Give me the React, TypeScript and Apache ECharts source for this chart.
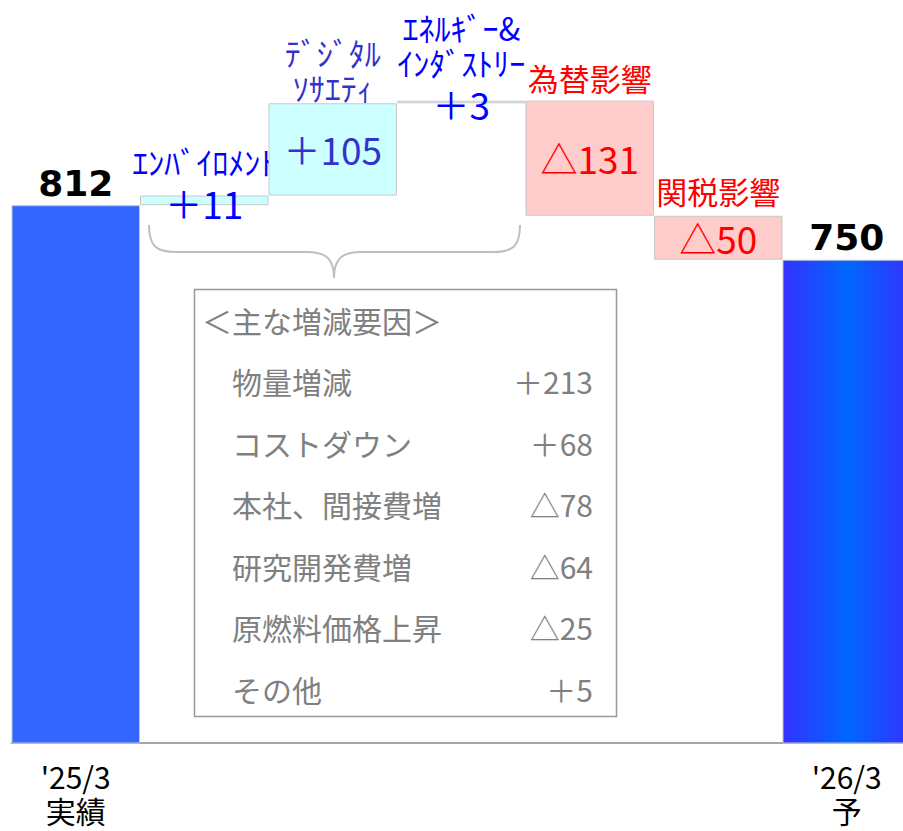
import React, { useEffect, useRef } from 'react';
import * as echarts from 'echarts';

// Operating profit bridge: '25/3 actual -> '26/3 forecast
const CATEGORIES = ["'25/3\n実績", 'エンバイロメント', 'デジタルソサエティ', 'エネルギー&インダストリー', '為替影響', '関税影響', "'26/3\n予"];
const START_TOTAL = 812;
const END_TOTAL = 750;
const DELTA_NAMES = [['ｴﾝﾊﾞｲﾛﾒﾝﾄ'], ['ﾃﾞｼﾞﾀﾙ', 'ｿｻｴﾃｨ'], ['ｴﾈﾙｷﾞｰ&', 'ｲﾝﾀﾞｽﾄﾘｰ'], ['為替影響'], ['関税影響']];
const DELTA_VALUES = [11, 105, 3, -131, -50];
const FACTOR_TITLE = '＜主な増減要因＞';
const FACTOR_NAMES = ['物量増減', 'コストダウン', '本社、間接費増', '研究開発費増', '原燃料価格上昇', 'その他'];
const FACTOR_VALUES = [213, 68, -78, -64, -25, 5];

// Styling
const JP_FONT = "'Noto Sans CJK JP', 'Noto Sans', sans-serif";
const NAME_COLORS = ['#0000ff', '#3333cc', '#0000ff', '#ff0000', '#ff0000'];
const NAME_SIZES = [32, 32, 32, 31, 31];
const VALUE_COLORS = ['#0000ff', '#3333cc', '#0000ff', '#ff0000', '#ff0000'];
const UP_FILL = '#ccffff';
const DOWN_FILL = '#ffcccc';
// vertical offset (px) of the last name line's centre from the bar top
const NAME_GAP = [-35, -16, -39, -23, -25];
const NAME_LINE_HEIGHT = 35;

const fmtDelta = (v: number) => (v >= 0 ? '＋' + v : '△' + -v);

const braceD =
  'M149,225 C149,245 155,252 176,252 L307,252 C327,252 334,260 334,278 C334,260 341,252 361,252 L493,252 C514,252 520,245 520,225';
echarts.graphic.registerShape('brace', echarts.graphic.extendPath(braceD, {}));

export default function App() {
  const ref = useRef<HTMLDivElement>(null);

  useEffect(() => {
    const el = ref.current;
    if (!el) return;
    const chart = echarts.init(el, null, { renderer: 'svg' });

    const bases: number[] = [];
    const tops: number[] = [];
    let running = START_TOTAL;
    DELTA_VALUES.forEach((d) => {
      const next = running + d;
      bases.push(Math.min(running, next));
      tops.push(Math.max(running, next));
      running = next;
    });

    const n = CATEGORIES.length;
    const totalsData: any[] = CATEGORIES.map(() => '-');
    totalsData[0] = { value: START_TOTAL, itemStyle: { color: '#3366ff' } };
    totalsData[n - 1] = {
      value: END_TOTAL,
      itemStyle: {
        color: new echarts.graphic.LinearGradient(0, 0, 1, 0, [
          { offset: 0, color: '#3333ff' },
          { offset: 0.5, color: '#0066ff' },
          { offset: 1, color: '#3333ff' },
        ]),
      },
    };

    const baseData: any[] = ['-', ...bases, '-'];

    const labelPos: any[] = [['50%', 7], 'inside', ['50%', 3], 'inside', 'inside'];
    const deltaData: any[] = [
      '-',
      ...DELTA_VALUES.map((d, i) => ({
        value: Math.abs(d),
        itemStyle: { color: d >= 0 ? UP_FILL : DOWN_FILL },
        label: {
          show: true,
          position: labelPos[i],
          align: 'center',
          verticalAlign: 'middle',
          color: VALUE_COLORS[i],
          fontSize: 37,
          fontFamily: JP_FONT,
          formatter: () => fmtDelta(d),
        },
      })),
      '-',
    ];

    chart.setOption({
      animation: false,
      backgroundColor: '#ffffff',
      textStyle: { fontFamily: JP_FONT },
      grid: {
        left: 11.5,
        width: 899.5,
        top: 40,
        height: 703,
        containLabel: false,
        outerBoundsMode: 'none',
      },
      xAxis: {
        type: 'category',
        data: CATEGORIES,
        axisTick: { show: false },
        axisLine: { show: true, lineStyle: { color: '#a6a6a6', width: 2 } },
        axisLabel: {
          interval: 0,
          margin: 16,
          color: '#000000',
          fontSize: 30,
          lineHeight: 34,
          fontFamily: JP_FONT,
          formatter: (v: string, i: number) => (i === 0 || i === n - 1 ? v : ''),
        },
      },
      yAxis: {
        type: 'value',
        min: 200,
        max: 1000,
        show: false,
        splitLine: { show: false },
      },
      series: [
        {
          name: 'total',
          type: 'bar',
          data: totalsData,
          barCategoryGap: '0%',
          barGap: '-100%',
          itemStyle: { borderColor: '#c4c8d4', borderWidth: 1 },
          label: {
            show: true,
            position: 'top',
            distance: 4,
            color: '#000000',
            fontSize: 36,
            fontWeight: 'bold',
            fontFamily: "'DejaVu Sans', Verdana, sans-serif",
          },
        },
        {
          name: 'base',
          type: 'bar',
          stack: 'wf',
          data: baseData,
          barCategoryGap: '0%',
          barGap: '-100%',
          silent: true,
          itemStyle: { color: 'rgba(0,0,0,0)' },
        },
        {
          name: 'delta',
          type: 'bar',
          stack: 'wf',
          data: deltaData,
          barCategoryGap: '0%',
          barGap: '-100%',
          itemStyle: { borderColor: '#c8c8c8', borderWidth: 1 },
        },
      ],
    });

    const nameTexts = DELTA_NAMES.map((lines, i) => {
      const [x, y] = chart.convertToPixel({ gridIndex: 0 }, [i + 1, tops[i]]) as number[];
      return {
        type: 'text',
        x,
        y: y + NAME_GAP[i] + NAME_LINE_HEIGHT / 2,
        silent: true,
        style: {
          text: lines.join('\n'),
          fill: NAME_COLORS[i],
          fontSize: NAME_SIZES[i],
          fontFamily: JP_FONT,
          lineHeight: NAME_LINE_HEIGHT,
          align: 'center',
          verticalAlign: 'bottom',
        },
      };
    });

    const rowY0 = 381;
    const rowStep = 61.5;
    const boxTexts: any[] = [
      {
        type: 'text',
        x: 202,
        y: 320,
        style: { text: FACTOR_TITLE, fill: '#808080', fontSize: 30, fontFamily: JP_FONT, verticalAlign: 'middle', align: 'left' },
      },
    ];
    FACTOR_NAMES.forEach((name, i) => {
      const y = rowY0 + i * rowStep;
      boxTexts.push({
        type: 'text',
        x: 232,
        y,
        style: { text: name, fill: '#808080', fontSize: 30, fontFamily: JP_FONT, verticalAlign: 'middle', align: 'left' },
      });
      boxTexts.push({
        type: 'text',
        x: 593,
        y,
        style: { text: fmtDelta(FACTOR_VALUES[i]), fill: '#808080', fontSize: 30, fontFamily: JP_FONT, verticalAlign: 'middle', align: 'right' },
      });
    });

    chart.setOption({
      graphic: [
        {
          type: 'brace',
          x: 0,
          y: 0,
          silent: true,
          style: { stroke: '#bfbfbf', fill: 'none', lineWidth: 2 },
        },
        {
          type: 'rect',
          shape: { x: 194.5, y: 289.5, width: 422, height: 427 },
          silent: true,
          style: { stroke: '#999999', fill: '#ffffff', lineWidth: 1.5 },
        },
        ...boxTexts,
        ...nameTexts,
      ],
    });

    return () => chart.dispose();
  }, []);

  return (
    <div
      ref={ref}
      style={{ position: 'fixed', left: 0, top: 0, width: 903, height: 831, background: '#ffffff' }}
    />
  );
}
